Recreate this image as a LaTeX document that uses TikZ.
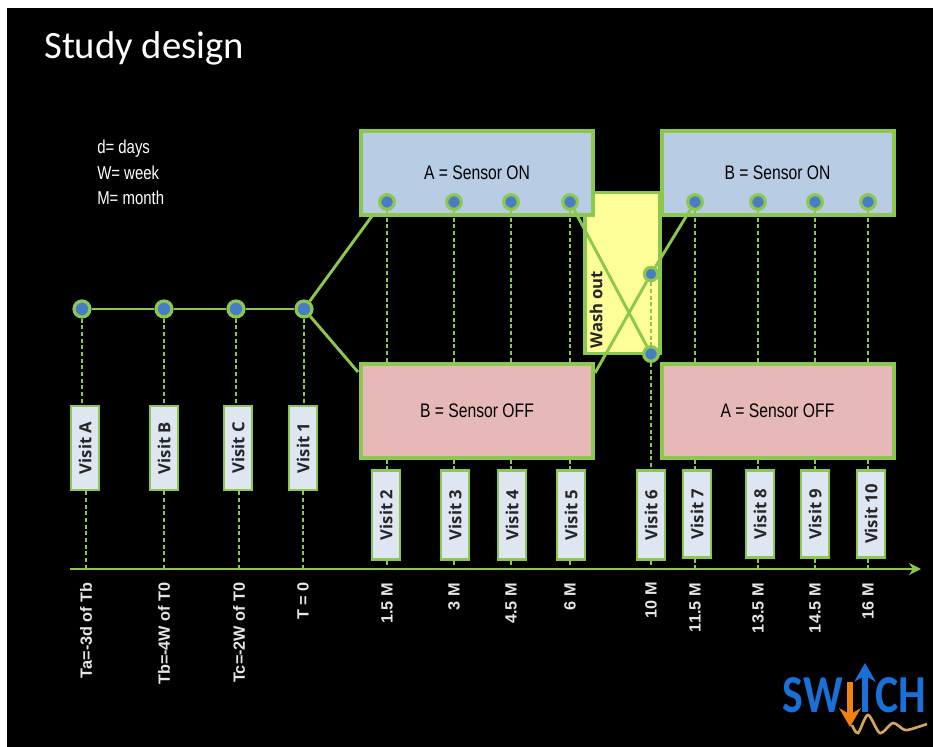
\documentclass[tikz,border=0pt]{standalone}
\usepackage{fontspec}
\setmainfont{Liberation Sans}
\newfontfamily\titlefont{Carlito}
\newfontfamily\narrowfont[FakeStretch=0.8]{Liberation Sans}
\newfontfamily\visitfont{Open Sans}
\newfontfamily\logofont[FakeStretch=0.82]{Carlito}
\usepackage{tikz}
\usetikzlibrary{positioning,arrows.meta,calc}
\definecolor{leaf}{RGB}{140,200,80}
\definecolor{dotblue}{RGB}{72,124,196}
\definecolor{skyfill}{RGB}{184,204,228}
\definecolor{rosefill}{RGB}{230,184,183}
\definecolor{washfill}{RGB}{255,255,153}
\definecolor{visitfill}{RGB}{222,230,242}
\definecolor{logoblue}{RGB}{24,112,216}
\definecolor{logoorange}{RGB}{240,130,20}
\definecolor{logotan}{RGB}{214,164,96}
\tikzset{
  armbox/.style={draw=leaf,line width=3pt,minimum width=174pt,minimum height=63pt,inner sep=0pt,font=\narrowfont\fontsize{14.7}{16}\selectfont,text=black},
  visitbox/.style={draw=leaf,line width=2.2pt,fill=visitfill,rotate=90,minimum width=63pt,minimum height=21pt,inner sep=0pt,font=\visitfont\bfseries\fontsize{12.5}{14}\selectfont,text=black!85},
  dot/.style={circle,draw=leaf,line width=2.4pt,fill=dotblue,minimum size=12pt,inner sep=0pt},
  link/.style={draw=leaf,line width=2.2pt},
  stem/.style={draw=leaf,line width=2pt,densely dashed},
  timelabel/.style={rotate=90,anchor=east,text=white!90!black,inner sep=0pt,font=\bfseries\fontsize{12.2}{14}\selectfont},
  keytext/.style={anchor=west,text=white,font=\narrowfont\fontsize{14}{16}\selectfont,inner sep=0pt}
}
\begin{document}
\begin{tikzpicture}[x=0.75pt,y=-0.75pt]
\useasboundingbox (0,0) rectangle (933,747);
\fill[white] (0,0) rectangle (933,747);
\fill[black] (7,8) rectangle (933,747);
\node (title) [anchor=west,text=white,font=\titlefont\fontsize{29}{32}\selectfont,inner sep=0pt] at (44,48) {Study design};
\node (keyd) [keytext] at (97,149) {d= days};
\node (keyw) [keytext] at (97,173) {W= week};
\node (keym) [keytext] at (97,198) {M= month};
% arm boxes
\node (wash) [draw=leaf,line width=2.6pt,fill=washfill,minimum width=56pt,minimum height=121pt,inner sep=0pt] at (622.5,273) {};
\node (washtext) [rotate=90,anchor=west,inner sep=0pt,font=\visitfont\bfseries\fontsize{12.5}{14}\selectfont,text=black!85] at (596,349) {Wash out};
\node (aon) [armbox,fill=skyfill] at (477,172.5) {A = Sensor ON};
\node (bon) [armbox,fill=skyfill] at (777.5,172.5) {B = Sensor ON};
\node (boff) [armbox,fill=rosefill,minimum height=70pt] at (477,411) {B = Sensor OFF};
\node (aoff) [armbox,fill=rosefill,minimum height=70pt] at (777.5,411) {A = Sensor OFF};
% time axis
\coordinate (axisa) at (70,569);
\coordinate (axisb) at (921,569);
\draw[link,-{Stealth[length=9pt,width=9pt]}] (axisa) -- (axisb);
% visits before the arms
\foreach \name/\txt/\dx/\bx/\tick/\lab in {a/Visit A/82/85/86/Ta=-3d of Tb,b/Visit B/164/164/164/Tb=-4W of T0,c/Visit C/236/238/239/Tc=-2W of T0,one/Visit 1/304/303/303/T = 0}{
  \node (d\name) [dot] at (\dx,309) {};
  \node (v\name) [visitbox] at (\bx,448) {\txt};
  \coordinate (t\name) at (\tick,569);
  \node (l\name) [timelabel] at (\tick,582) {\lab};
  \draw[stem] (d\name) -- (v\name.east -| d\name);
  \draw[stem] (v\name.west -| t\name) -- (t\name);
}
\draw[link] (da) -- (db);
\draw[link] (db) -- (dc);
\draw[link] (dc) -- (done);
\coordinate (aonleft) at (372,216);
\coordinate (boffleft) at (358,372);
\draw[link] (done) -- (aonleft);
\draw[link] (done) -- (boffleft);
% visits in the first period
\foreach \name/\txt/\dx/\bx/\lab in {two/Visit 2/387/386/1.5 M,three/Visit 3/454/455/3 M,four/Visit 4/511/512/4.5 M,five/Visit 5/570/571/6 M}{
  \node (d\name) [dot,minimum size=11pt] at (\dx,202) {};
  \node (v\name) [visitbox,minimum width=67pt] at (\bx,515) {\txt};
  \coordinate (t\name) at (\dx,569);
  \node (l\name) [timelabel] at (\dx,583) {\lab};
  \draw[stem] (d\name) -- (boff.north -| d\name);
  \draw[stem] (boff.south -| d\name) -- (v\name.east -| d\name);
  \draw[stem] (v\name.west -| d\name) -- (t\name);
}
% visits in the second period
\foreach \name/\txt/\dx/\bx/\lab in {seven/Visit 7/695/697/11.5 M,eight/Visit 8/758/760/13.5 M,nine/Visit 9/815/815/14.5 M,ten/Visit 10/868/871/16 M}{
  \node (d\name) [dot,minimum size=11pt] at (\dx,202) {};
  \node (v\name) [visitbox,minimum width=65pt] at (\bx,514) {\txt};
  \coordinate (t\name) at (\dx,569);
  \node (l\name) [timelabel] at (\dx,583) {\lab};
  \draw[stem] (d\name) -- (aoff.north -| d\name);
  \draw[stem] (aoff.south -| d\name) -- (v\name.east -| d\name);
  \draw[stem] (v\name.west -| d\name) -- (t\name);
}
% wash out
\node (dwashup) [dot,minimum size=10pt] at (651,274) {};
\node (dwashlow) [dot,minimum size=11pt] at (651,354) {};
\node (vsix) [visitbox,minimum width=67pt] at (651,515) {Visit 6};
\coordinate (tsix) at (651,569);
\node (lsix) [timelabel] at (651,582) {10 M};
\coordinate (boffright) at (595,373);
\draw[stem] (dwashup) -- (dwashlow);
\draw[stem] (dwashlow) -- (vsix.east);
\draw[stem] (vsix.west) -- (tsix);
\draw[link] (dfive) -- (dwashlow);
\draw[link] (boffright) -- (dwashup);
\draw[link] (dwashup) -- (dseven);
% logo
\node (logosw) [anchor=east,text=logoblue,inner sep=0pt,font=\logofont\bfseries\fontsize{40}{44}\selectfont] at (843,695) {SW};
\node (logoch) [anchor=west,text=logoblue,inner sep=0pt,font=\logofont\bfseries\fontsize{40}{44}\selectfont] at (875,695) {CH};
\coordinate (uptail) at (865,712);
\coordinate (uphead) at (865,663);
\coordinate (downtail) at (850,682);
\coordinate (downhead) at (850,727);
\draw[logoblue,line width=4.5pt,-{Stealth[length=14pt,width=16pt]}] (uptail) -- (uphead);
\draw[logoorange,line width=4.5pt,-{Stealth[length=14pt,width=16pt]}] (downtail) -- (downhead);
\draw[logotan,line width=2pt] plot[smooth] coordinates {(852,725) (858,733) (868,715) (880,733) (893,723) (905,730) (918,727) (927,724)};
\end{tikzpicture}
\end{document}
